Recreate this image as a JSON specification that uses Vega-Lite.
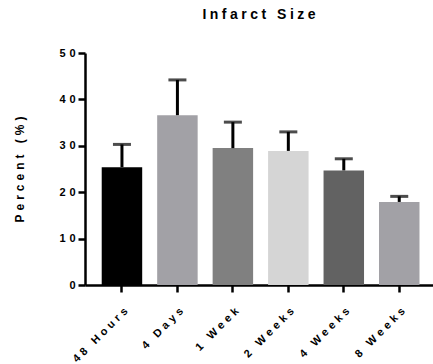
{
  "$schema": "https://vega.github.io/schema/vega-lite/v6.json",
  "width": 348,
  "height": 232,
  "autosize": {"type": "none"},
  "padding": {"left": 85, "top": 53, "right": 0, "bottom": 79},
  "background": "white",
  "title": {
    "text": "I\u2005n\u2005f\u2005a\u2005r\u2005c\u2005t\u2005\u00a0\u2005S\u2005i\u2005z\u2005e",
    "font": "Liberation Sans",
    "fontSize": 14,
    "fontWeight": "bold",
    "color": "black",
    "anchor": "middle",
    "offset": 25
  },
  "data": {
    "values": [
      {"time": "48 Hours", "mean": 25.4, "upper": 30.3},
      {"time": "4 Days", "mean": 36.6, "upper": 44.2},
      {"time": "1 Week", "mean": 29.5, "upper": 35.1},
      {"time": "2 Weeks", "mean": 28.9, "upper": 33.0},
      {"time": "4 Weeks", "mean": 24.7, "upper": 27.2},
      {"time": "8 Weeks", "mean": 17.9, "upper": 19.1}
    ]
  },
  "encoding": {
    "x": {
      "field": "time",
      "type": "nominal",
      "sort": null,
      "scale": {"paddingInner": 0.27, "paddingOuter": 0.2725, "align": 0.553},
      "axis": {
        "title": null,
        "labelAngle": -45,
        "labelPadding": 13,
        "labelFontSize": 11,
        "labelExpr": "join(split(replace(datum.label, ' ', '\u2005'), ''), '\u2004')"
      }
    }
  },
  "layer": [
    {
      "mark": {"type": "bar"},
      "encoding": {
        "y": {
          "field": "mean",
          "type": "quantitative",
          "scale": {"domain": [0, 50], "nice": false},
          "axis": {
            "title": "P\u2004e\u2004r\u2004c\u2004e\u2004n\u2004t\u2004\u00a0\u2004(\u2004%\u2004)",
            "titleFontSize": 12,
            "titlePadding": 33,
            "values": [0, 10, 20, 30, 40, 50],
            "labelFontSize": 11,
            "labelPadding": 3,
            "labelExpr": "join(split(datum.label, ''), '\u2004')"
          }
        },
        "color": {
          "field": "time",
          "type": "nominal",
          "sort": null,
          "legend": null,
          "scale": {
            "domain": ["48 Hours", "4 Days", "1 Week", "2 Weeks", "4 Weeks", "8 Weeks"],
            "range": ["#000000", "#a2a1a6", "#808080", "#d5d5d5", "#626262", "#a2a1a6"]
          }
        }
      }
    },
    {
      "mark": {"type": "rule", "color": "black", "strokeWidth": 3},
      "encoding": {
        "y": {"field": "mean", "type": "quantitative"},
        "y2": {"field": "upper"}
      }
    },
    {
      "mark": {"type": "tick", "color": "black", "thickness": 3, "size": 18, "orient": "horizontal"},
      "encoding": {
        "y": {"field": "upper", "type": "quantitative"}
      }
    }
  ],
  "config": {
    "view": {"stroke": null},
    "axis": {
      "grid": false,
      "domainColor": "black",
      "domainWidth": 2.5,
      "tickColor": "black",
      "tickWidth": 2.5,
      "tickSize": 7,
      "labelFont": "Liberation Sans",
      "labelFontWeight": "bold",
      "labelColor": "black",
      "titleFont": "Liberation Sans",
      "titleFontWeight": "bold",
      "titleColor": "black"
    }
  }
}
